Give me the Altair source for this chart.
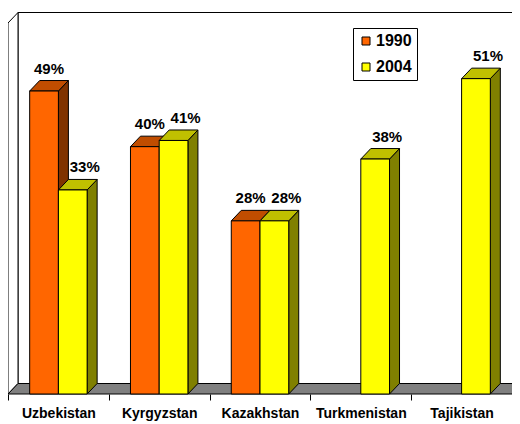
import altair as alt
import pandas as pd

countries = ["Uzbekistan", "Kyrgyzstan", "Kazakhstan", "Turkmenistan", "Tajikistan"]
years = ["1990", "2004"]
values_1990 = [49, 40, 28, None, None]
values_2004 = [33, 41, 28, 38, 51]

front_colors = ["#FF6600", "#FFFF00"]
top_colors = ["#C04D00", "#C0C000"]
side_colors = ["#803300", "#808000"]

W, H = 504, 371
YMAX = 60
NCAT = len(countries)
DX = 10 * NCAT / W          # depth offset in x data units
DY = 10.5 * YMAX / H        # depth offset in y data units
BAR_W = 0.285
GROUP_START = 0.215
LABEL_SHIFT = [5 * NCAT / W, 12 * NCAT / W]

front_rows, top_rows, side_rows, label_rows = [], [], [], []
bid = 0
for s, series in enumerate([values_1990, values_2004]):
    for i, v in enumerate(series):
        if v is None:
            continue
        xl = i + GROUP_START + s * BAR_W
        xr = xl + BAR_W
        front_rows.append({"xl": xl, "xr": xr, "y0": 0, "v": v, "year": years[s], "ord": s})
        top_rows += [
            {"id": bid, "y": v, "x": xl, "x2": xr, "c": top_colors[s], "ord": s},
            {"id": bid, "y": v + DY, "x": xl + DX, "x2": xr + DX, "c": top_colors[s], "ord": s},
        ]
        side_rows += [
            {"id": bid, "x": xr, "y": 0, "y2": v, "c": side_colors[s], "ord": s},
            {"id": bid, "x": xr + DX, "y": DY, "y2": v + DY, "c": side_colors[s], "ord": s},
        ]
        label_rows.append({"x": xl + BAR_W / 2 + LABEL_SHIFT[s], "y": v + DY, "t": f"{v}%"})
        bid += 1

front_df = pd.DataFrame(front_rows)
top_df = pd.DataFrame(top_rows).sort_values(["ord", "id", "y"])
side_df = pd.DataFrame(side_rows).sort_values(["ord", "id", "x"])
label_df = pd.DataFrame(label_rows)

xscale = alt.Scale(domain=[0, NCAT], nice=False, zero=False)
yscale = alt.Scale(domain=[0, YMAX], nice=False, zero=False)

FONT = "Liberation Sans"

label_expr = "datum.value < %d ? %s[datum.value] : ''" % (NCAT, "[" + ",".join("'%s'" % c for c in countries) + "]")

# back wall
wall_df = pd.DataFrame({"x": [DX], "x2": [NCAT + DX + 1], "y": [DY], "y2": [YMAX + DY]})
back_wall = alt.Chart(wall_df).mark_rect(fill="white", stroke="black", strokeWidth=1).encode(
    x=alt.X("x:Q", scale=xscale,
            axis=alt.Axis(values=list(range(NCAT + 1)), labelExpr=label_expr, title=None,
                          domain=False, grid=False, ticks=True, tickSize=6, tickColor="black",
                          labelOffset=W / NCAT / 2, labelFont=FONT, labelFontSize=14,
                          labelFontWeight="bold", labelColor="black", labelPadding=6,
                          labelAngle=0, labelAlign="center")),
    x2="x2:Q",
    y=alt.Y("y:Q", scale=yscale, axis=None),
    y2="y2:Q",
)

left_wall_df = pd.DataFrame({"x": [0, DX], "y": [0, DY], "y2": [YMAX, YMAX + DY]})
left_wall = alt.Chart(left_wall_df).mark_area(fill="white", stroke="black", strokeWidth=1).encode(
    x=alt.X("x:Q", scale=xscale, stack=None),
    y=alt.Y("y:Q", scale=yscale, stack=None),
    y2="y2:Q",
)

floor_df = pd.DataFrame({"y": [0, DY], "x": [0, DX], "x2": [NCAT, NCAT + DX]})
floor = alt.Chart(floor_df).mark_area(orient="horizontal", fill="#808080", stroke="black", strokeWidth=1).encode(
    y=alt.Y("y:Q", scale=yscale, stack=None),
    x=alt.X("x:Q", scale=xscale, stack=None),
    x2="x2:Q",
)

sides = alt.Chart(side_df).mark_area(stroke="black", strokeWidth=1).encode(
    x=alt.X("x:Q", scale=xscale, stack=None),
    y=alt.Y("y:Q", scale=yscale, stack=None),
    y2="y2:Q",
    detail="id:N",
    fill=alt.Fill("c:N", scale=None),
)

tops = alt.Chart(top_df).mark_area(orient="horizontal", stroke="black", strokeWidth=1).encode(
    y=alt.Y("y:Q", scale=yscale, stack=None),
    x=alt.X("x:Q", scale=xscale, stack=None),
    x2="x2:Q",
    detail="id:N",
    fill=alt.Fill("c:N", scale=None),
)

fronts = alt.Chart(front_df).mark_rect(stroke="black", strokeWidth=1).encode(
    x=alt.X("xl:Q", scale=xscale),
    x2="xr:Q",
    y=alt.Y("y0:Q", scale=yscale),
    y2="v:Q",
    fill=alt.Fill("year:N", scale=alt.Scale(domain=years, range=front_colors),
                  legend=alt.Legend(title=None, orient="none", legendX=345, legendY=5,
                                    symbolType="square", symbolSize=64, symbolStrokeColor="black",
                                    symbolStrokeWidth=1, labelFont=FONT, labelFontSize=16,
                                    labelFontWeight="bold", labelColor="black", rowPadding=10,
                                    labelOffset=2, padding=5, strokeColor="black", fillColor="white")),
)

labels = alt.Chart(label_df).mark_text(font=FONT, fontSize=15, fontWeight="bold", color="black",
                                       baseline="alphabetic", dy=-7).encode(
    x=alt.X("x:Q", scale=xscale),
    y=alt.Y("y:Q", scale=yscale),
    text="t:N",
)

chart = alt.layer(back_wall, left_wall, floor, sides, tops, fronts, labels).properties(
    width=W, height=H,
    autosize=alt.AutoSizeParams(type="none"),
    padding={"left": 0, "top": 15, "right": 0, "bottom": 30},
).configure_view(stroke=None)

chart.save("out.html", embed_options={"renderer": "svg", "actions": False})
